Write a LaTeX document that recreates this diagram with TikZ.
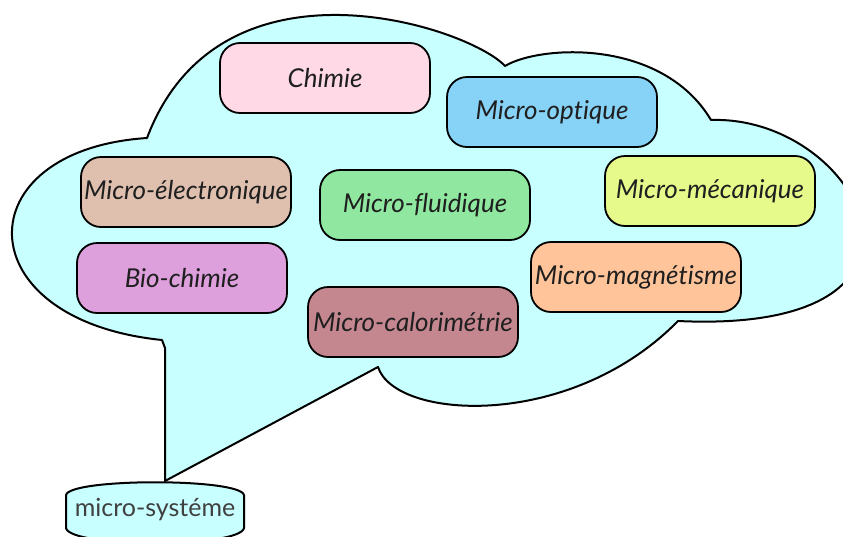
\documentclass[tikz,border=0pt]{standalone}
\usepackage{fontspec}
\setmainfont{Lato}[Ligatures=NoCommon]
\definecolor{cloudc}{RGB}{200,255,255}
\definecolor{chimiec}{RGB}{255,217,229}
\definecolor{optiquec}{RGB}{135,211,248}
\definecolor{electroc}{RGB}{223,192,175}
\definecolor{fluidc}{RGB}{144,232,160}
\definecolor{mecac}{RGB}{230,250,140}
\definecolor{bioc}{RGB}{221,160,221}
\definecolor{magnc}{RGB}{255,196,153}
\definecolor{caloc}{RGB}{196,135,143}
\begin{document}
\begin{tikzpicture}[x=1pt,y=-1pt,
  topic/.style={draw=black, line width=1.8pt, rounded corners=20pt,
    minimum width=210pt, minimum height=70pt, inner sep=0pt,
    font=\itshape\fontsize{26}{30}\selectfont, text=black!88},
  outline/.style={draw=black, line width=2pt, line join=round}]
\useasboundingbox (0,0) rectangle (843,536);
% cloud with tail
\coordinate (A) at (147,138);
\coordinate (B) at (505,66);
\coordinate (C) at (711,120);
\coordinate (D) at (678,321);
\coordinate (E) at (378,367);
\coordinate (T) at (165,481);
\coordinate (G) at (165,348);
\coordinate (F) at (162,340);
\path[outline, fill=cloudc]
  (A) .. controls (220,-55) and (469,27) .. (B)
      .. controls (540,45) and (662,38) .. (C)
      .. controls (860,115) and (975,335) .. (D)
      .. controls (570,431) and (395,420) .. (E)
      -- (T) -- (G) -- (F)
      .. controls (-35,320) and (-36,150) .. (A) -- cycle;
% micro-systeme
\path[outline, fill=cloudc]
  (66,528) -- (66,495) .. controls (70,478) and (240,478) .. (244,495)
  -- (244,528) .. controls (240,548) and (70,548) .. (66,528) -- cycle;
\node[font=\fontsize{25}{30}\selectfont, text=black!75] (ms) at (155,510) {micro-systéme};
% topics
\node[topic, fill=chimiec] (chimie) at (325,78) {Chimie};
\node[topic, fill=optiquec] (optique) at (552,112) {Micro-optique};
\node[topic, fill=electroc] (electro) at (186,192) {Micro-électronique};
\node[topic, fill=fluidc] (fluid) at (425,205) {Micro-fluidique};
\node[topic, fill=mecac] (meca) at (710,191) {Micro-mécanique};
\node[topic, fill=bioc] (bio) at (182,278) {Bio-chimie};
\node[topic, fill=magnc] (magn) at (636,277) {Micro-magnétisme};
\node[topic, fill=caloc] (calo) at (413,322) {Micro-calorimétrie};
\end{tikzpicture}
\end{document}
